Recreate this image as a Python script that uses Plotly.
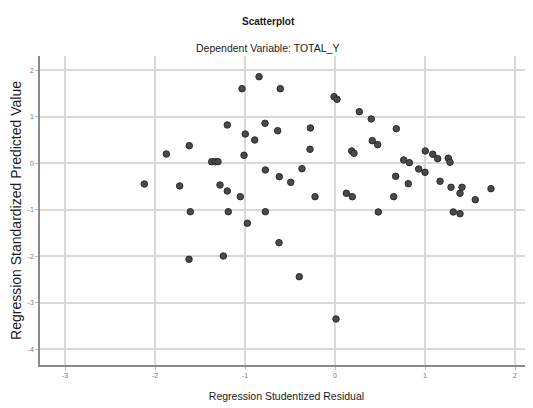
import plotly.graph_objects as go

# Regression Studentized Residual (x) vs Regression Standardized Predicted Value (y)
resid = [-0.844, -1.033, -0.608, -0.011, 0.022, -1.197, -0.778, -0.997, -0.637, -0.274,
         -0.892, -1.619, -1.874, -0.278, -1.011, -1.37, -1.33, -1.30, -0.774, -0.367,
         -0.619, -0.492, -2.119, -1.726, -1.278, -1.197, -1.052, -0.222, -1.608, -1.186,
         -0.774, -0.974, -0.622, -1.622, -1.241, -0.397, 0.011,
         0.270, 0.403, 0.681, 0.414, 0.474, 0.186, 0.211, 1.003, 1.086,
         1.141, 1.259, 1.278, 0.763, 0.826, 0.930, 1.000, 0.674, 0.814, 1.167,
         1.289, 1.411, 1.389, 1.733, 1.559, 0.126, 0.192, 0.652, 0.481, 1.314, 1.389]
pred = [1.862, 1.604, 1.604, 1.432, 1.376, 0.824, 0.860, 0.630, 0.701, 0.759,
        0.501, 0.378, 0.200, 0.301, 0.172, 0.034, 0.034, 0.034, -0.144, -0.116,
        -0.288, -0.409, -0.445, -0.488, -0.467, -0.596, -0.718, -0.718, -1.041, -1.041,
        -1.041, -1.290, -1.708, -2.065, -1.994, -2.439, -3.348,
        1.110, 0.953, 0.744, 0.486, 0.400, 0.265, 0.215, 0.265, 0.194,
        0.099, 0.108, 0.022, 0.071, 0.013, -0.123, -0.194, -0.280, -0.439, -0.387,
        -0.516, -0.516, -0.645, -0.546, -0.783, -0.645, -0.718, -0.718, -1.047, -1.047, -1.084]

x_ticks = [-3, -2, -1, 0, 1, 2]
y_ticks = [-4, -3, -2, -1, 0, 1, 2]

FONT = "Liberation Sans Narrow, Liberation Sans, Arial, sans-serif"

# page body has an 8px margin: figure pixel = window pixel - 8
OFF = 8
W, H = 533 - OFF, 408 - OFF
L, T = 40 - OFF, 56 - OFF
B = H - (365 - OFF)
R = W - (533 - OFF)

fig = go.Figure()
fig.add_trace(go.Scatter(
    x=resid, y=pred, mode="markers",
    marker=dict(size=6.5, color="#4a4a4a", line=dict(color="#2a2a2a", width=1)),
    showlegend=False, hoverinfo="x+y",
))

fig.update_layout(
    width=W, height=H,
    margin=dict(l=L, r=R, t=T, b=B, pad=0),
    paper_bgcolor="white", plot_bgcolor="white",
    font=dict(family=FONT, color="#1a1a1a"),
    xaxis=dict(
        range=[-3.278, 2.2], tickvals=x_ticks, ticktext=[str(v) for v in x_ticks],
        showgrid=True, gridcolor="#d9d9d9", gridwidth=1.5,
        showline=True, linecolor="#8a8a8a", linewidth=1.5,
        ticks="outside", ticklen=3, tickcolor="#bbbbbb",
        tickfont=dict(size=7, color="#777"), zeroline=False,
        title=dict(text="Regression Studentized Residual", standoff=14,
                   font=dict(size=10.5, color="#1a1a1a", family=FONT)),
    ),
    yaxis=dict(
        range=[-4.338, 2.307], tickvals=y_ticks, ticktext=[str(v) for v in y_ticks],
        showgrid=True, gridcolor="#d9d9d9", gridwidth=1.5,
        showline=True, linecolor="#8a8a8a", linewidth=1.5,
        ticks="outside", ticklen=3, tickcolor="#bbbbbb",
        tickfont=dict(size=7, color="#777"), zeroline=False,
        title=dict(text="Regression Standardized Predicted Value", standoff=4,
                   font=dict(size=14, color="#1a1a1a", family=FONT)),
    ),
)

plot_w = W - L - R
plot_h = H - T - B


def add_text(text, wx, wy, size):
    # wx, wy: window pixel position of text centre
    fx, fy = wx - OFF, wy - OFF
    fig.add_annotation(
        text=text, xref="paper", yref="paper",
        x=(fx - L) / plot_w, y=(H - B - fy) / plot_h,
        xanchor="center", yanchor="middle", showarrow=False,
        font=dict(size=size, color="#1a1a1a", family=FONT),
    )


add_text("<b>Scatterplot</b>", 268, 21.5, 10)
add_text("Dependent Variable: TOTAL_Y", 267, 48, 10.5)

fig.write_html("out.html")
